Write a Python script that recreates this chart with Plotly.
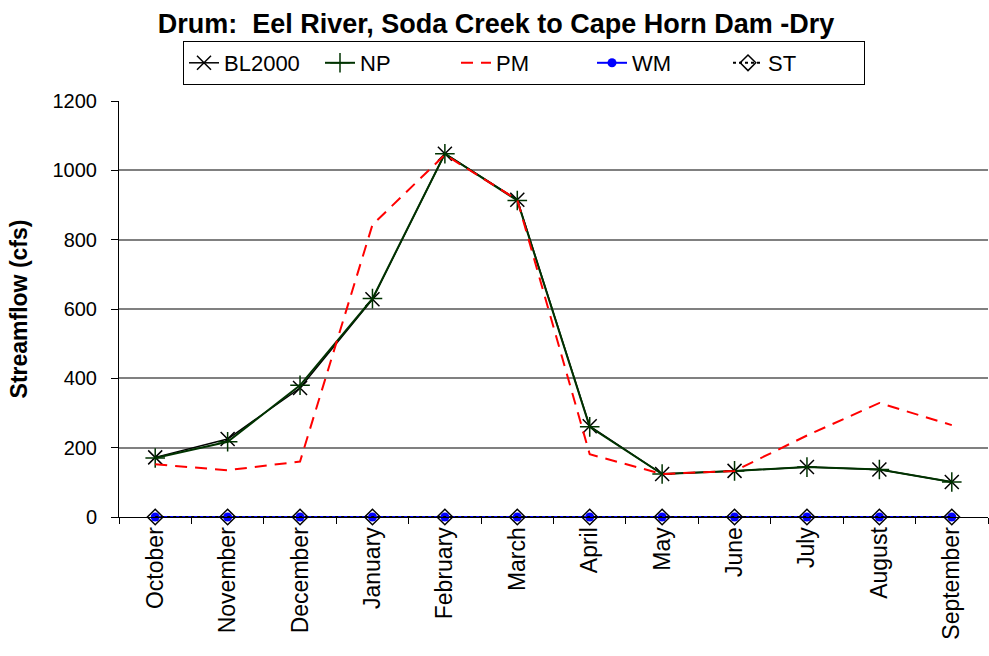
import plotly.graph_objects as go

months = ["October", "November", "December", "January", "February", "March",
          "April", "May", "June", "July", "August", "September"]
bl2000 = [172, 225, 372, 628, 1048, 915, 262, 124, 133, 144, 137, 101]
np_vals = [170, 217, 380, 630, 1048, 913, 260, 124, 133, 144, 137, 101]
pm = [152, 135, 160, 843, 1045, 915, 181, 124, 133, 235, 329, 265]
wm = [0] * 12
st = [0] * 12

y_ticks = [0, 200, 400, 600, 800, 1000, 1200]

FONT = "Liberation Sans, Arial, sans-serif"

fig = go.Figure()
fig.add_trace(go.Scatter(x=months, y=bl2000, name="BL2000", mode="lines+markers", cliponaxis=False,
                         line=dict(color="black", width=1.5),
                         marker=dict(symbol="x-thin", size=14, line=dict(color="black", width=1.5))))
fig.add_trace(go.Scatter(x=months, y=np_vals, name="NP", mode="lines+markers", cliponaxis=False,
                         line=dict(color="#003300", width=2),
                         marker=dict(symbol="cross-thin", size=14, line=dict(color="#003300", width=1.5))))
fig.add_trace(go.Scatter(x=months, y=pm, name="PM", mode="lines", cliponaxis=False,
                         line=dict(color="#ff0000", width=2, dash="12px,8px")))
fig.add_trace(go.Scatter(x=months, y=wm, name="WM", mode="lines+markers", cliponaxis=False,
                         line=dict(color="#0000ff", width=2),
                         marker=dict(symbol="circle", size=9, color="#0000ff")))
fig.add_trace(go.Scatter(x=months, y=st, name="ST", mode="lines+markers", cliponaxis=False,
                         line=dict(color="black", width=2, dash="dot"),
                         marker=dict(symbol="diamond-open", size=12, color="black", line=dict(width=1.5))))

fig.update_layout(
    width=989, height=656,
    margin=dict(l=119, r=1, t=101, b=139),
    paper_bgcolor="white", plot_bgcolor="white",
    font=dict(family=FONT, size=22, color="black"),
    title=dict(text="<b>Drum:  Eel River, Soda Creek to Cape Horn Dam -Dry</b>",
               x=496 / 989, xref="container", xanchor="center",
               y=1 - 24 / 656, yref="container", yanchor="middle",
               font=dict(family=FONT, size=27, color="black")),
    legend=dict(orientation="h", x=524 / 989, xref="container", xanchor="center",
                y=1 - 41 / 656, yref="container", yanchor="top",
                bordercolor="black", borderwidth=1, bgcolor="white",
                font=dict(family=FONT, size=22), entrywidth=91,
                tracegroupgap=0),
    showlegend=True,
)
fig.update_xaxes(type="category", showline=True, linecolor="black", linewidth=1,
                 ticks="outside", tickson="boundaries", ticklen=6, tickcolor="black",
                 tickangle=-90, showgrid=False, tickfont=dict(size=23),
                 range=[-0.5, 11.5], automargin=False)
fig.update_yaxes(range=[0, 1200], tickvals=y_ticks, showline=True, linecolor="black", linewidth=1,
                 ticks="outside", ticklen=7, tickcolor="black",
                 showgrid=True, gridcolor="#808080", gridwidth=1.5, zeroline=False,
                 tickfont=dict(size=20), ticklabelstandoff=10, automargin=False,
                 title=dict(text="<b>Streamflow (cfs)</b>", font=dict(size=23), standoff=18))

fig.write_html("out.html", config={"displayModeBar": False},
               post_script="document.body.style.margin='0';")
